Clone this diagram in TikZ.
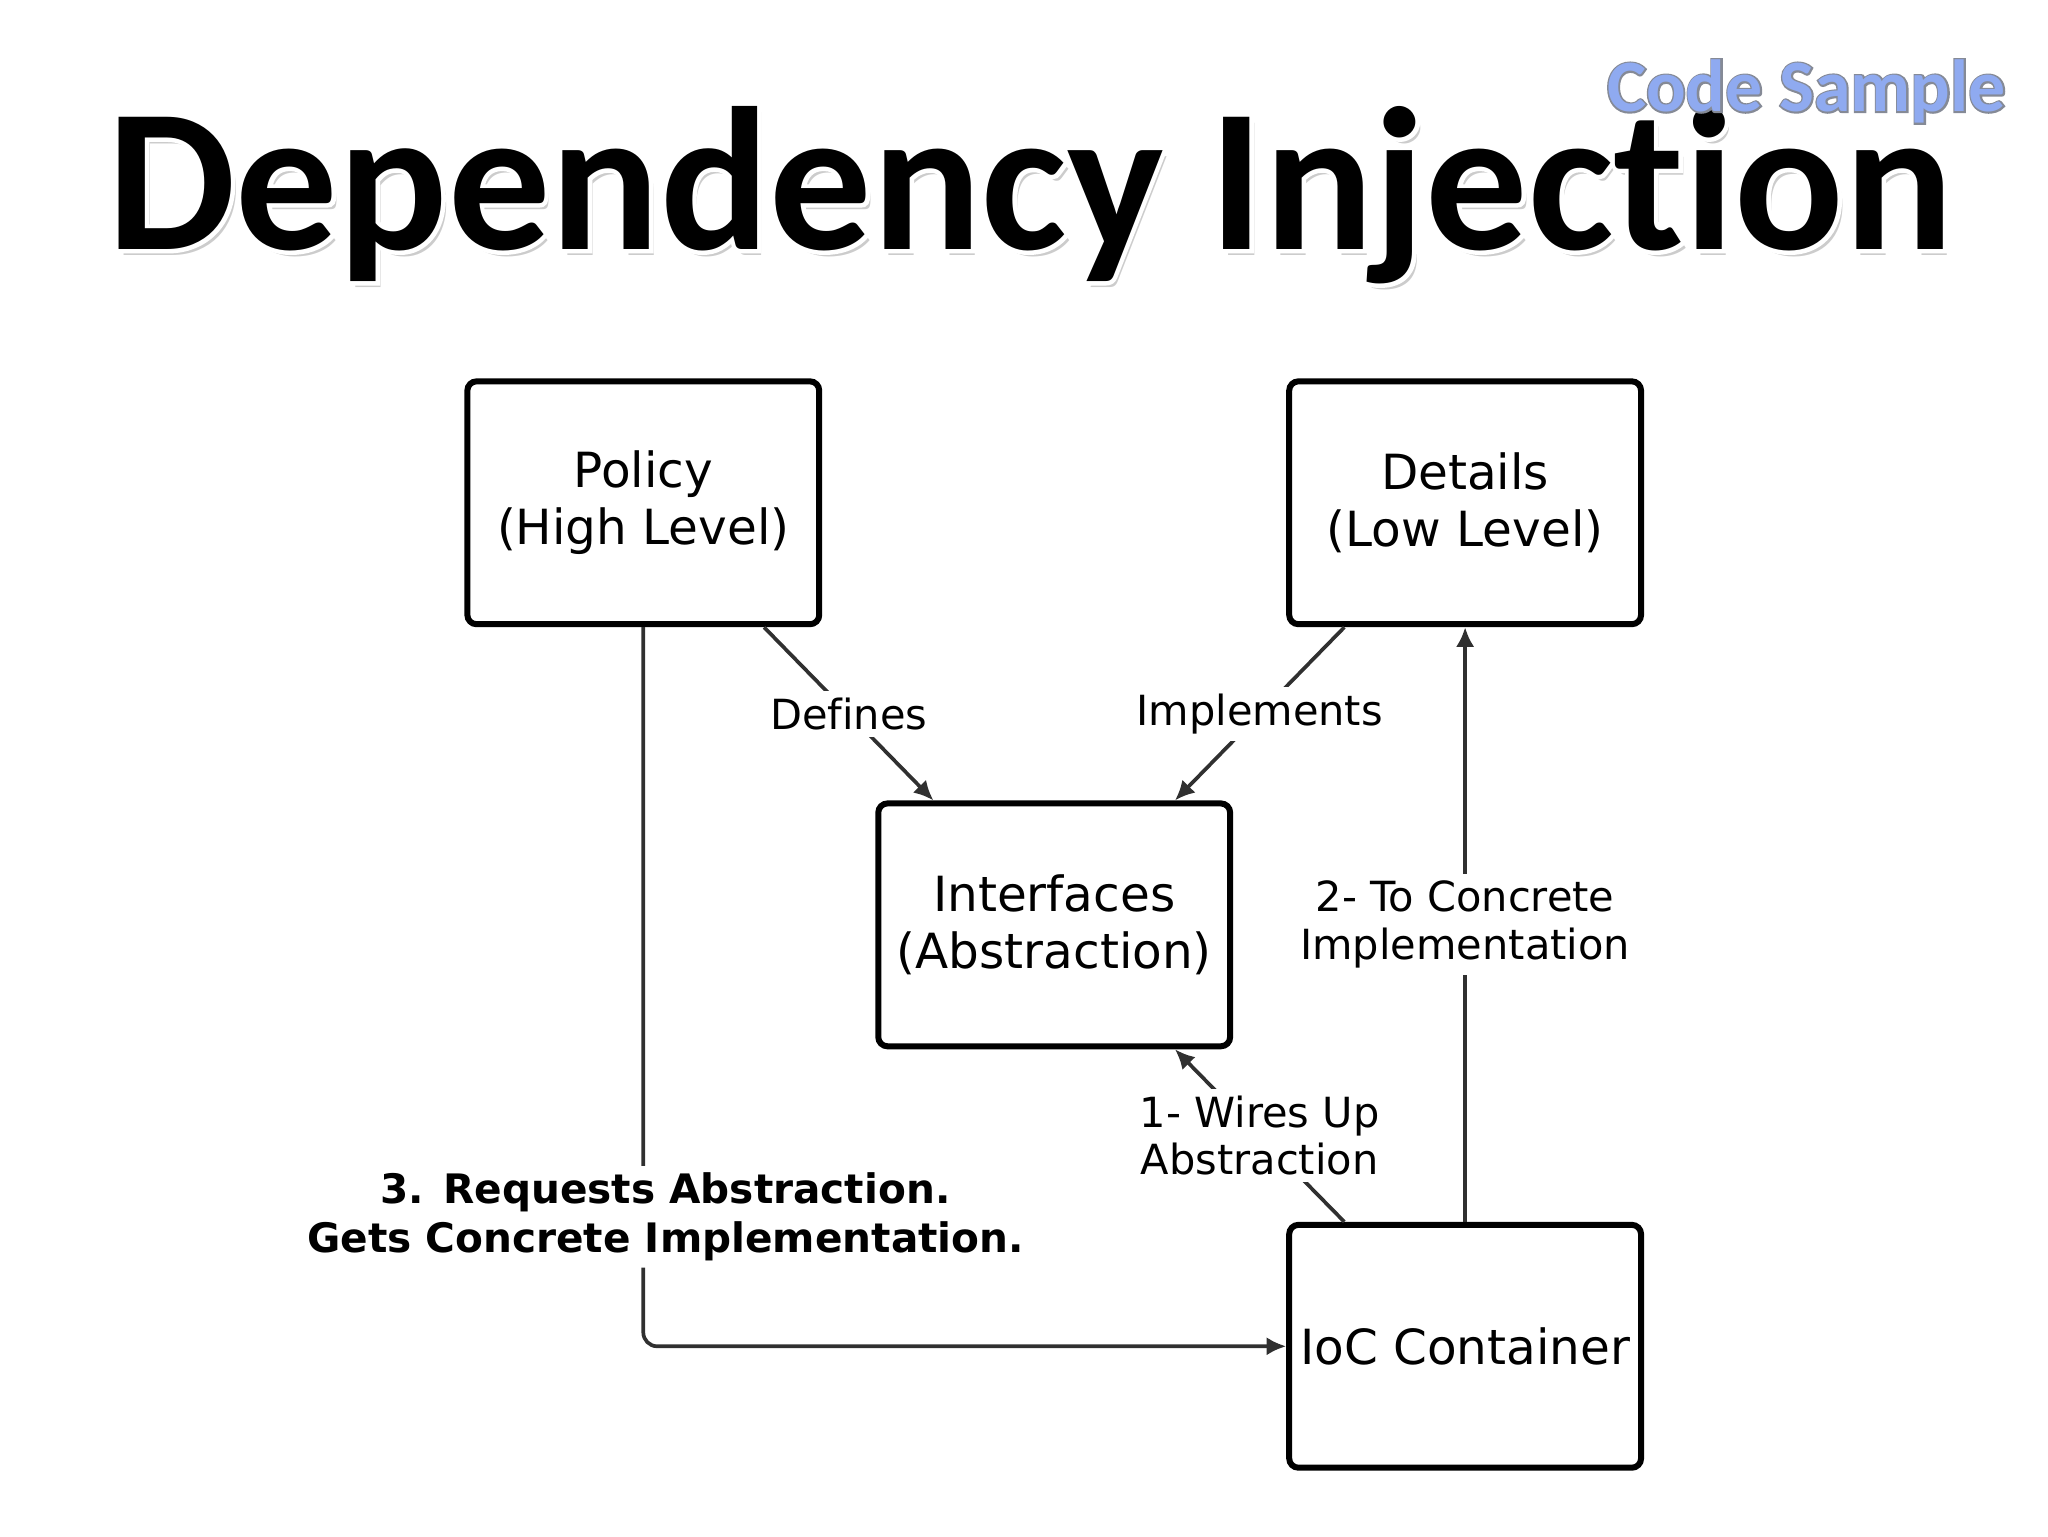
\documentclass[tikz,border=0pt]{standalone}
\usepackage{fontspec}
\usetikzlibrary{arrows.meta}

\newfontface\titlefont[Ligatures=NoCommon]{Carlito Bold}
\newfontface\titlerim[Ligatures=NoCommon,FakeBold=4]{Carlito Bold}
\newfontface\samplerimfont[Ligatures=NoCommon,FakeBold=4.5]{Carlito Bold}
\newfontfamily\boxfont[Ligatures=NoCommon]{DejaVu Sans}
\definecolor{samplecol}{HTML}{8FAAF0}
\definecolor{samplerim}{HTML}{858A96}
\definecolor{linecol}{HTML}{303030}

\tikzset{
  box/.style={draw, line width=1.3pt, rounded corners=2pt, inner xsep=1pt,
    minimum width=2.68cm, minimum height=1.85cm, align=center,
    font=\boxfont\fontsize{10.5}{12.5}\selectfont},
  conn/.style={draw=linecol, line width=0.8pt, -{Latex[length=1.5mm,width=1.4mm]}},
  lbl/.style={fill=white, inner sep=1.5pt, align=center,
    font=\boxfont\fontsize{9}{10.3}\selectfont},
  lblbold/.style={lbl, font=\boxfont\bfseries\fontsize{8.8}{10.5}\selectfont},
  titletext/.style={anchor=base, font=\titlefont\fontsize{44.2}{50}\selectfont},
  samplestyle/.style={anchor=base, font=\titlefont\fontsize{16}{19}\selectfont},
}

\begin{document}
\begin{tikzpicture}
  \useasboundingbox (0,0) rectangle (15.6,11.7);
  % heading
  \node[titletext, gray!40] (titleshadow) at (7.885,9.755) {Dependency Injection};
  \node[titletext, white, font=\titlerim\fontsize{44.2}{50}\selectfont] (titlerim) at (7.85,9.80) {Dependency Injection};
  \node[titletext] (title) at (7.85,9.80) {Dependency Injection};
  \node[samplestyle, samplerim, font=\samplerimfont\fontsize{16}{19}\selectfont] (samplerim) at (13.76,10.85) {Code Sample};
  \node[samplestyle, samplecol] (sample) at (13.76,10.85) {Code Sample};
  % boxes
  \node[box] (policy) at (4.90,7.87) {Policy\\(High Level)};
  \node[box] (details) at (11.16,7.87) {Details\\(Low Level)};
  \node[box] (iface) at (8.03,4.655) {Interfaces\\(Abstraction)};
  \node[box] (ioc) at (11.16,1.445) {IoC Container};
  % connectors
  \begin{scope}[conn]
    \draw ([xshift=9.2mm]policy.south) -- node[lbl] {Defines} ([xshift=-9.2mm]iface.north);
    \draw ([xshift=-9.2mm]details.south) -- node[lbl] {Implements} ([xshift=9.2mm]iface.north);
    \draw ([xshift=-9.2mm]ioc.north) -- node[lbl] {1- Wires Up\\Abstraction} ([xshift=9.2mm]iface.south);
    \draw (ioc.north) -- node[lbl] {2- To Concrete\\Implementation} (details.south);
    \draw[rounded corners=3pt] (policy.south) |- node[lblbold, pos=0.41, xshift=1.7mm]
      {3. Requests Abstraction.\\Gets Concrete Implementation.} (ioc.west);
  \end{scope}
\end{tikzpicture}
\end{document}
